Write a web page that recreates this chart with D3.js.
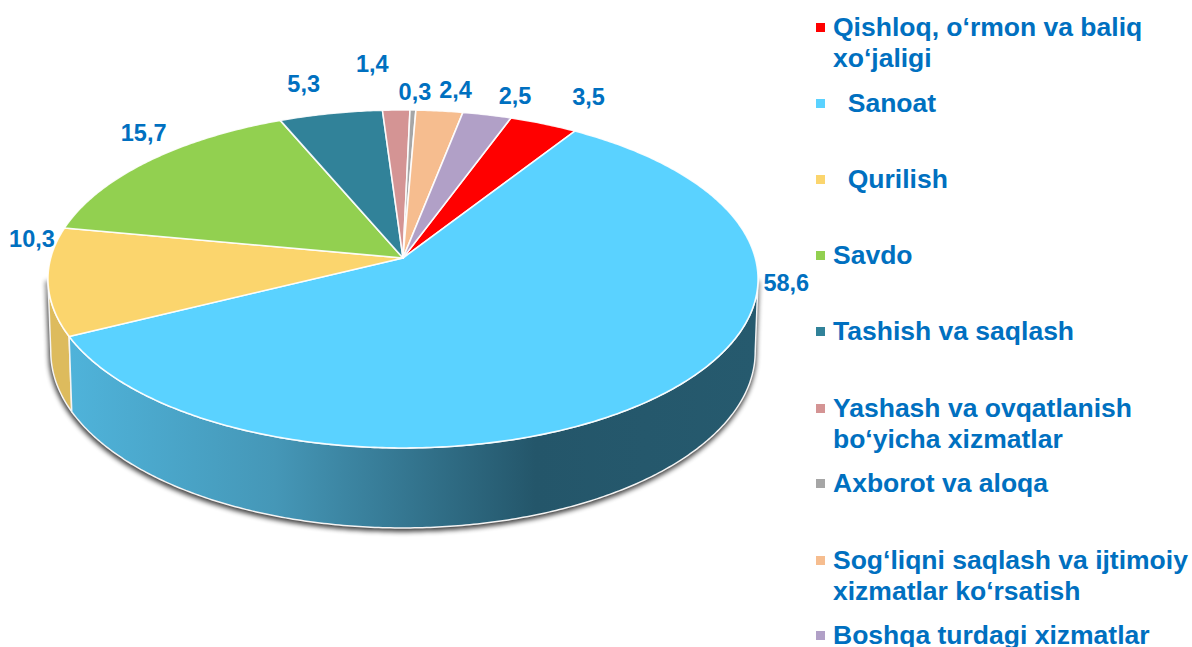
<!DOCTYPE html>
<html>
<head>
<meta charset="utf-8">
<script src="https://cdn.jsdelivr.net/npm/d3@7"></script>
<style>
  html, body { margin: 0; padding: 0; background: #fff; overflow: hidden; }
  text { font-family: "Liberation Sans", Arial, sans-serif; font-weight: bold; fill: #0070c0; white-space: pre; }
</style>
</head>
<body>
<div id="chart"></div>
<script>
// data
var categories = [
  "Qishloq, o‘rmon va baliq\nxo‘jaligi",
  "  Sanoat",
  "  Qurilish",
  "Savdo",
  "Tashish va saqlash",
  "Yashash va ovqatlanish\nbo‘yicha xizmatlar",
  "Axborot va aloqa",
  "Sog‘liqni saqlash va ijtimoiy\nxizmatlar ko‘rsatish",
  "Boshqa turdagi xizmatlar"
];
var values = [3.5, 58.6, 10.3, 15.7, 5.3, 1.4, 0.3, 2.4, 2.5];
var colors = ["#ff0000", "#5ad2ff", "#fbd56d", "#92d050", "#318299", "#d49494", "#a6a6a6", "#f6bd8f", "#b1a0c7"];

// layout only
var labelNudge = [[45, -27], [124, -112], [-16, -42], [-5, -28], [-27, -30], [-24, -46], [2, -18], [16, -21], [28, -19]];
var legendBase = [36, 112, 188, 264, 340, 417, 492, 569, 644];

var width = 1192, height = 647;
var cx = 403, persp = -0.124;
var topDisc = { y0: 258, a: 352.3, b: 166.4 };
var baseDisc = { y0: 330, a: 349.5, b: 173.4 };

// the wall is only seen between the two widest points of the disc
var wallStart = Math.PI - Math.acos(-persp);
var wallEnd = Math.PI + Math.acos(-persp);

var svg = d3.select("#chart").append("svg")
    .attr("width", width)
    .attr("height", height)
    .style("display", "block");

var defs = svg.append("defs");

var blur = defs.append("filter").attr("id", "soft")
    .attr("x", "-10%").attr("y", "-10%").attr("width", "120%").attr("height", "120%");
blur.append("feGaussianBlur").attr("stdDeviation", 2.5);

var grad = defs.append("linearGradient").attr("id", "sideBlue")
    .attr("gradientUnits", "userSpaceOnUse")
    .attr("x1", 70).attr("x2", 755).attr("y1", 0).attr("y2", 0);
grad.append("stop").attr("offset", "0").attr("stop-color", "#4fb3da");
grad.append("stop").attr("offset", "0.3").attr("stop-color", "#4597b7");
grad.append("stop").attr("offset", "0.68").attr("stop-color", "#24566a");
grad.append("stop").attr("offset", "1").attr("stop-color", "#265a6e");

// circle angle -> point on the tilted disc, t is clockwise from the top
function rim(t, disc) {
  var u = Math.sin(t), v = -Math.cos(t);
  var den = 1 + persp * v;
  return [cx + disc.a * u / den, disc.y0 + disc.b * v / den];
}

function arcPoints(a0, a1, disc) {
  var n = Math.max(2, Math.ceil((a1 - a0) / 0.01));
  return d3.range(n + 1).map(function (i) { return rim(a0 + (a1 - a0) * i / n, disc); });
}

function wallPath(a0, a1) {
  var pts = arcPoints(a0, a1, topDisc).concat(arcPoints(a0, a1, baseDisc).reverse());
  return line(pts) + "Z";
}

var line = d3.line();

var pie = d3.pie().sort(null)
    .startAngle(20 * Math.PI / 180)
    .endAngle(380 * Math.PI / 180);
var slices = pie(values);

// shadow under the base
var shadow = svg.append("g")
    .attr("transform", "translate(-0.5,2)")
    .attr("opacity", 0.75)
    .attr("filter", "url(#soft)");
shadow.append("path")
    .attr("d", line(arcPoints(0, 2 * Math.PI, baseDisc)) + "Z")
    .attr("fill", "#000")
    .attr("stroke", "#000")
    .attr("stroke-width", 3);
shadow.append("path")
    .attr("d", wallPath(wallStart, wallEnd))
    .attr("fill", "#000")
    .attr("stroke", "#000")
    .attr("stroke-width", 3);

// front wall, only Sanoat and Qurilish face the viewer
var sideFill = { 1: "url(#sideBlue)", 2: "#ddbb5d" };
[2, 1].forEach(function (i) {
  var s = slices[i];
  svg.append("path")
      .attr("d", wallPath(Math.max(s.startAngle, wallStart), Math.min(s.endAngle, wallEnd)))
      .attr("fill", sideFill[i])
      .attr("stroke", "#f4f4f4")
      .attr("stroke-width", 1.5)
      .attr("stroke-linejoin", "round");
});

// top face
svg.append("g").selectAll("path")
    .data(slices)
  .enter().append("path")
    .attr("d", function (d) {
      var pts = [[cx, topDisc.y0]].concat(arcPoints(d.startAngle, d.endAngle, topDisc));
      return line(pts) + "Z";
    })
    .attr("fill", function (d, i) { return colors[i]; })
    .attr("stroke", "#fff")
    .attr("stroke-opacity", 0.9)
    .attr("stroke-width", 1.6)
    .attr("stroke-linejoin", "round");

// value labels
var comma = d3.formatLocale({ decimal: ",", thousands: " ", grouping: [3], currency: ["", ""] }).format(".1f");
svg.append("g").selectAll("text")
    .data(slices)
  .enter().append("text")
    .attr("x", function (d, i) { return rim((d.startAngle + d.endAngle) / 2, topDisc)[0] + labelNudge[i][0]; })
    .attr("y", function (d, i) { return rim((d.startAngle + d.endAngle) / 2, topDisc)[1] + labelNudge[i][1]; })
    .attr("dy", "0.35em")
    .attr("text-anchor", "middle")
    .style("font-size", "23.5px")
    .text(function (d) { return comma(d.value); });

// legend
var legend = svg.append("g").selectAll("g")
    .data(categories)
  .enter().append("g")
    .attr("transform", function (d, i) { return "translate(816," + legendBase[i] + ")"; });

legend.append("rect")
    .attr("y", -13)
    .attr("width", 9)
    .attr("height", 9)
    .attr("fill", function (d, i) { return colors[i]; });

legend.append("text")
    .attr("x", 17)
    .style("font-size", "26.5px")
    .selectAll("tspan")
    .data(function (d) { return d.split("\n"); })
  .enter().append("tspan")
    .attr("x", 17)
    .attr("dy", function (d, i) { return i ? 30.5 : 0; })
    .text(function (d) { return d; });
</script>
</body>
</html>
